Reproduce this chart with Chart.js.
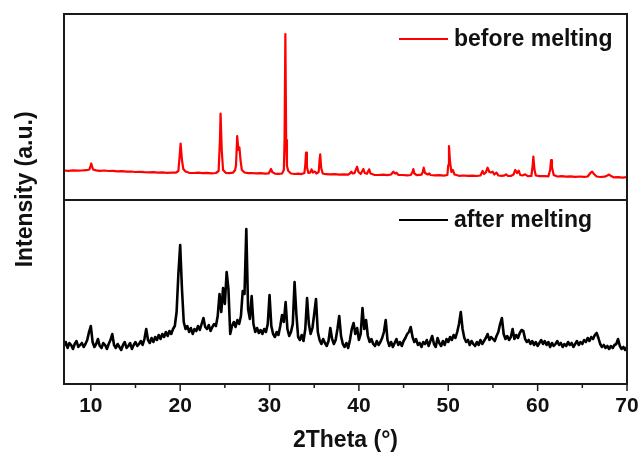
<!DOCTYPE html>
<html><head><meta charset="utf-8">
<script src="https://cdn.jsdelivr.net/npm/chart.js@4/dist/chart.umd.min.js"></script>
<style>html,body{margin:0;padding:0;background:#fff}canvas{display:block}</style>
</head><body>
<canvas id="c" width="643" height="463"></canvas>
<script>
// ---- data ----
const seriesLabels = ['before melting', 'after melting'];
const seriesColors = ['#ff0000', '#000000'];
const xTickValues = [10, 15, 20, 25, 30, 35, 40, 45, 50, 55, 60, 65, 70];
const xMajorLabels = [10, 20, 30, 40, 50, 60, 70];
const panelSplit = 184;   // intensity offset for the upper pattern
const yMax = 370;

const beforeTheta = [
  7.0,7.5,8.0,8.5,9.0,9.5,9.85,10.05,10.25,10.6,
  11.0,11.5,12.0,12.5,13.0,13.5,14.0,14.5,15.0,15.5,
  16.0,16.5,17.0,17.5,18.0,18.5,19.0,19.5,19.8,19.95,
  20.05,20.2,20.35,20.6,21.0,21.5,22.0,22.5,23.0,23.5,
  24.0,24.3,24.45,24.52,24.65,24.8,25.1,25.5,25.9,26.15,
  26.25,26.38,26.52,26.63,26.75,26.9,27.2,27.6,28.0,28.5,
  29.0,29.5,29.9,30.05,30.16,30.3,30.6,31.0,31.4,31.6,
  31.68,31.77,31.86,31.95,32.1,32.4,32.8,33.2,33.6,33.9,
  34.0,34.08,34.18,34.35,34.55,34.7,34.85,35.0,35.1,35.25,
  35.5,35.6,35.67,35.78,35.95,36.3,36.8,37.3,37.8,38.3,
  38.8,39.05,39.15,39.3,39.5,39.8,39.95,40.2,40.5,40.65,
  40.9,41.15,41.3,41.7,42.2,42.7,43.2,43.6,43.85,44.05,
  44.2,44.4,44.9,45.4,45.8,46.0,46.09,46.2,46.5,47.0,
  47.15,47.25,47.4,47.7,47.88,48.0,48.5,49.0,49.5,49.9,
  50.0,50.08,50.2,50.35,50.5,50.7,51.2,51.7,52.2,52.7,
  53.2,53.6,53.84,54.0,54.2,54.4,54.6,54.8,54.97,55.15,
  55.4,55.6,56.0,56.3,56.46,56.65,57.0,57.3,57.5,57.7,
  57.88,58.05,58.3,58.6,58.9,59.3,59.45,59.52,59.65,59.8,
  60.2,60.7,61.2,61.4,61.5,61.6,61.8,62.2,62.7,63.2,
  63.7,64.2,64.7,65.2,65.6,65.9,66.1,66.3,66.6,67.0,
  67.5,67.8,68.0,68.2,68.5,69.0,69.5,70.0
];
const beforeIntensity = [
  29.5,29.2,29.6,29.3,29.5,29.8,30.5,36.5,30.5,29.6,
  29.2,29.5,29.0,29.1,28.6,28.8,28.3,28.5,28.0,28.2,
  27.8,27.6,27.9,27.4,27.6,27.2,27.4,27.3,29,45,
  56.5,40,31,28.5,27.2,27.0,27.3,26.8,27.1,26.7,
  27.0,29,60,86.5,50,30,27.2,26.8,27.3,30,
  35,64,50,52.5,40,30,27.5,26.8,27.0,26.6,
  26.8,26.4,26.6,29,31,28,26.4,26.2,26.5,30,
  60,166,60,34,29,26.5,26.0,26.3,25.9,27,
  35,47.3,33,27,27.5,30.7,27.5,28.5,28.3,26.5,
  28,40,45.7,32,26.5,25.8,25.6,25.9,25.4,25.6,
  25.3,27,28.3,26.5,26.8,33.3,28,26,31,27,
  26.2,30.7,26.5,25.2,25.0,25.3,24.9,25.5,28.3,26.5,
  27.3,25.2,25.0,24.7,25.0,28,31,26.5,24.8,25.3,
  28,32.3,27,25.5,26.7,25.0,24.6,24.8,24.4,25.0,
  35,54,38,28,30,25.5,24.2,24.5,24.1,24.4,
  24.0,24.5,29,26,27.5,32.3,28,27.5,28.3,25.5,
  27.3,24.5,24.2,24.6,25.7,24.2,24.0,25.5,30,27,
  29.3,25,24.5,25.7,23.8,24.0,35,43.3,30,24.5,
  23.8,24.0,23.6,30,40,33,25,23.5,23.8,23.3,
  23.6,23.2,23.5,23.1,23.5,27,28.3,26,23.5,23.0,
  23.3,24.5,25.5,24.0,22.7,22.9,22.4,22.8
];

const afterTheta = [
  7.0,7.2,7.4,7.6,7.8,8.0,8.2,8.4,8.6,8.8,
  9.0,9.2,9.4,9.6,9.8,10.0,10.2,10.4,10.6,10.8,
  11.0,11.2,11.4,11.6,11.8,12.0,12.2,12.4,12.6,12.8,
  13.0,13.2,13.4,13.6,13.8,14.0,14.2,14.4,14.6,14.8,
  15.0,15.2,15.4,15.6,15.8,16.0,16.2,16.4,16.6,16.8,
  17.0,17.2,17.4,17.6,17.8,18.0,18.2,18.4,18.6,18.8,
  19.0,19.2,19.4,19.6,19.8,20.0,20.2,20.4,20.6,20.8,
  21.0,21.2,21.4,21.6,21.8,22.0,22.2,22.4,22.6,22.8,
  23.0,23.2,23.4,23.6,23.8,24.0,24.2,24.4,24.6,24.8,
  25.0,25.2,25.4,25.6,25.8,26.0,26.2,26.4,26.6,26.8,
  27.0,27.2,27.4,27.6,27.8,28.0,28.2,28.4,28.6,28.8,
  29.0,29.2,29.4,29.6,29.8,30.0,30.2,30.4,30.6,30.8,
  31.0,31.2,31.4,31.6,31.8,32.0,32.2,32.4,32.6,32.8,
  33.0,33.2,33.4,33.6,33.8,34.0,34.2,34.4,34.6,34.8,
  35.0,35.2,35.4,35.6,35.8,36.0,36.2,36.4,36.6,36.8,
  37.0,37.2,37.4,37.6,37.8,38.0,38.2,38.4,38.6,38.8,
  39.0,39.2,39.4,39.6,39.8,40.0,40.2,40.4,40.6,40.8,
  41.0,41.2,41.4,41.6,41.8,42.0,42.2,42.4,42.6,42.8,
  43.0,43.2,43.4,43.6,43.8,44.0,44.2,44.4,44.6,44.8,
  45.0,45.2,45.4,45.6,45.8,46.0,46.2,46.4,46.6,46.8,
  47.0,47.2,47.4,47.6,47.8,48.0,48.2,48.4,48.6,48.8,
  49.0,49.2,49.4,49.6,49.8,50.0,50.2,50.4,50.6,50.8,
  51.0,51.2,51.4,51.6,51.8,52.0,52.2,52.4,52.6,52.8,
  53.0,53.2,53.4,53.6,53.8,54.0,54.2,54.4,54.6,54.8,
  55.0,55.2,55.4,55.6,55.8,56.0,56.2,56.4,56.6,56.8,
  57.0,57.2,57.4,57.6,57.8,58.0,58.2,58.4,58.6,58.8,
  59.0,59.2,59.4,59.6,59.8,60.0,60.2,60.4,60.6,60.8,
  61.0,61.2,61.4,61.6,61.8,62.0,62.2,62.4,62.6,62.8,
  63.0,63.2,63.4,63.6,63.8,64.0,64.2,64.4,64.6,64.8,
  65.0,65.2,65.4,65.6,65.8,66.0,66.2,66.4,66.6,66.8,
  67.0,67.2,67.4,67.6,67.8,68.0,68.2,68.4,68.6,68.8,
  69.0,69.2,69.4,69.6,69.8,70.0
];
const afterIntensity = [
  38,42,36,41,39,35,40,43,37,39,
  41,37,40,44,52,58,42,37,40,45,
  38,36,41,39,35,40,44,50,39,36,
  40,37,34,39,42,36,38,41,35,39,
  42,38,40,43,39,45,55,44,41,46,
  42,47,44,49,45,50,47,52,48,53,
  50,55,58,72,110,139,95,62,55,58,
  52,56,50,55,53,58,54,60,66,57,
  55,59,53,57,60,58,68,90,72,96,
  80,112,95,50,58,62,57,64,60,68,
  93,90,155,75,65,88,60,52,56,51,
  54,50,55,52,60,89,58,50,47,52,
  49,58,69,62,82,55,48,52,60,102,
  70,47,44,49,43,55,86,60,50,56,
  70,85,52,44,40,45,41,38,43,56,
  45,40,44,55,68,48,40,37,41,36,
  44,55,61,50,56,44,50,76,55,64,
  48,42,45,40,38,43,39,42,46,52,
  64,44,38,42,37,41,45,39,42,38,
  43,46,50,52,57,47,42,45,39,41,
  37,42,40,44,38,43,48,40,37,46,
  41,38,43,39,45,42,47,44,49,46,
  52,60,72,55,46,42,44,39,43,40,
  38,42,39,44,40,43,46,50,44,47,
  45,43,48,52,60,66,50,45,48,44,
  47,55,45,49,46,51,54,53,45,42,
  44,40,43,39,42,38,41,44,40,43,
  39,42,37,41,38,40,43,39,41,37,
  40,38,42,39,41,37,40,43,39,42,
  40,44,42,46,43,47,45,49,51,46,
  40,37,39,36,38,35,38,36,39,40,
  45,38,35,37,34,37
];

// ---- chart ----
const FONT = "'Liberation Sans', Arial, Helvetica, sans-serif";

const beforeData = beforeTheta.map((t, i) => ({ x: t, y: beforeIntensity[i] + panelSplit }));
const afterData = afterTheta.map((t, i) => ({ x: t, y: afterIntensity[i] }));

const framePlugin = {
  id: 'frame',
  beforeDraw(chart) {
    const ctx = chart.ctx;
    ctx.save();
    ctx.fillStyle = '#ffffff';
    ctx.fillRect(0, 0, chart.width, chart.height);
    ctx.restore();
  },
  afterDatasetsDraw(chart) {
    const { ctx, chartArea: a, scales: { x, y } } = chart;
    ctx.save();
    ctx.strokeStyle = '#1a1a1a';
    ctx.lineWidth = 2;
    ctx.strokeRect(a.left, a.top, a.right - a.left, a.bottom - a.top);
    const yd = y.getPixelForValue(panelSplit);
    ctx.beginPath();
    ctx.moveTo(a.left, yd);
    ctx.lineTo(a.right, yd);
    ctx.stroke();
    // tick marks
    ctx.lineWidth = 1.5;
    x.ticks.forEach(t => {
      const px = x.getPixelForValue(t.value);
      const major = xMajorLabels.includes(t.value);
      ctx.beginPath();
      ctx.moveTo(px, a.bottom);
      ctx.lineTo(px, a.bottom + (major ? 7 : 4));
      ctx.stroke();
    });
    // in-panel legends
    const textX = a.right - 173;
    const legendY = [a.top + 25, yd + 20];
    chart.data.datasets.forEach((ds, i) => {
      ctx.strokeStyle = ds.borderColor;
      ctx.lineWidth = 2;
      ctx.beginPath();
      ctx.moveTo(textX - 55, legendY[i]);
      ctx.lineTo(textX - 6, legendY[i]);
      ctx.stroke();
      ctx.fillStyle = '#111';
      ctx.font = 'bold 23px ' + FONT;
      ctx.textBaseline = 'middle';
      ctx.textAlign = 'left';
      ctx.fillText(ds.label, textX, legendY[i] + 1);
    });
    ctx.restore();
  }
};

new Chart(document.getElementById('c'), {
  type: 'line',
  data: {
    datasets: [
      { label: seriesLabels[0], data: beforeData, borderColor: seriesColors[0], borderWidth: 2.2,
        borderJoinStyle: 'round', borderCapStyle: 'round', pointRadius: 0, tension: 0 },
      { label: seriesLabels[1], data: afterData, borderColor: seriesColors[1], borderWidth: 2.6,
        borderJoinStyle: 'round', borderCapStyle: 'round', pointRadius: 0, tension: 0 }
    ]
  },
  options: {
    responsive: false,
    animation: false,
    devicePixelRatio: 1,
    layout: { padding: { left: 0, right: 16, top: 14, bottom: 0 } },
    plugins: { legend: { display: false }, tooltip: { enabled: false } },
    scales: {
      x: {
        type: 'linear', min: 7, max: 70,
        afterBuildTicks: s => { s.ticks = xTickValues.map(v => ({ value: v })); },
        afterFit: s => { s.height = 79; s.paddingLeft = 0; s.paddingRight = 0; },
        grid: { display: false, drawTicks: false },
        border: { display: false },
        ticks: {
          padding: 10, color: '#111',
          font: { family: FONT, size: 21, weight: 'bold' },
          callback: v => xMajorLabels.includes(v) ? String(v) : ''
        },
        title: { display: true, text: '2Theta (°)', color: '#111', padding: { top: 0, bottom: 9 },
                 font: { family: FONT, size: 23, weight: 'bold' } }
      },
      y: {
        type: 'linear', min: 0, max: yMax,
        afterFit: s => { s.width = 64; s.paddingTop = 0; s.paddingBottom = 0; },
        grid: { display: false, drawTicks: false },
        border: { display: false },
        ticks: { display: false },
        title: { display: true, text: '   Intensity (a.u.)', color: '#111', padding: { top: 12, bottom: 0 },
                 font: { family: FONT, size: 23, weight: 'bold' } }
      }
    }
  },
  plugins: [framePlugin]
});
</script>
</body></html>
